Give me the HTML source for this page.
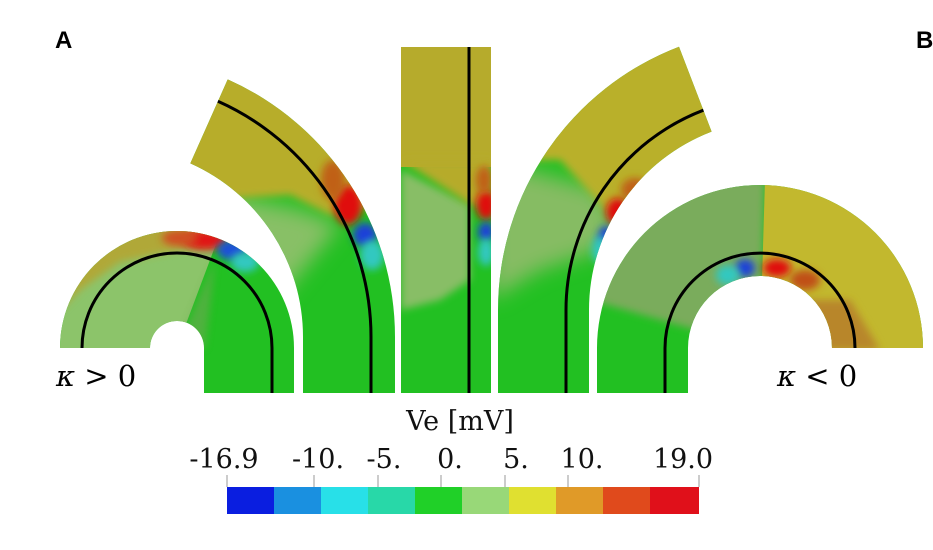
<!DOCTYPE html>
<html><head><meta charset="utf-8"><style>
html,body{margin:0;padding:0;background:#fff;}
svg{display:block;}
</style></head><body>
<svg width="933" height="550" viewBox="0 0 933 550" xmlns="http://www.w3.org/2000/svg">
<defs>
<filter id="bl" x="-50%" y="-50%" width="200%" height="200%"><feGaussianBlur stdDeviation="4"/></filter>
<filter id="bl2" x="-50%" y="-50%" width="200%" height="200%"><feGaussianBlur stdDeviation="10"/></filter>
<clipPath id="c1"><path d="M60,348 A117 117 0 0 1 294,348 L294,393 L204,393 L204,348 A27 27 0 0 0 150,348 Z"/></clipPath>
<clipPath id="c2"><path d="M227.7,79.4 A282 282 0 0 1 395,337 L395,393 L303,393 L303,337 A190 190 0 0 0 190.3,163.4 Z"/></clipPath>
<clipPath id="c3"><rect x="401" y="47" width="90" height="346"/></clipPath>
<clipPath id="c4"><path d="M498,310 A282 282 0 0 1 679,46.7 L711.6,131.6 A191 191 0 0 0 589,310 L589,393 L498,393 Z"/></clipPath>
<clipPath id="c5"><path d="M597,393 L597,348 A163 163 0 0 1 923,348 L832,348 A72 72 0 0 0 688,348 L688,393 Z"/></clipPath>
</defs>

<!-- Shape 1 -->
<g clip-path="url(#c1)">
<rect x="40" y="220" width="270" height="180" fill="#22c022"/>
<path d="M177,348 L40,348 L40,220 L225,220 Z" fill="#8cc46a"/>
<path d="M40,220 L225,220 L215,245 L177,250 L120,262 L80,290 L60,310 L40,320 Z" fill="#b0a838" filter="url(#bl)"/>
<path d="M177,348 L215,260 L205,348 Z" fill="#6fa852" opacity="0.6" filter="url(#bl)"/>
<ellipse cx="205" cy="240" rx="22" ry="10" fill="#e01818" filter="url(#bl)"/>
<ellipse cx="180" cy="238" rx="18" ry="8" fill="#d05020" filter="url(#bl)"/>
<ellipse cx="232" cy="250" rx="15" ry="10" fill="#1a4fd8" filter="url(#bl)"/>
<ellipse cx="245" cy="262" rx="14" ry="10" fill="#30c8c0" filter="url(#bl)"/>
</g>
<path d="M82,348 A95 95 0 0 1 272,348 L272,393" fill="none" stroke="#000" stroke-width="3"/>

<!-- Shape 2 -->
<g clip-path="url(#c2)">
<rect x="180" y="70" width="230" height="330" fill="#22c022"/>
<path d="M113,337 L150,220 L180,195 L230,195 L300,210 L340,225 L113,500 Z" fill="#88c066" filter="url(#bl2)"/>
<path d="M120,60 L400,60 L400,200 L330,215 L290,195 L240,198 L180,215 L120,230 Z" fill="#b7ad2c" filter="url(#bl)"/>
<ellipse cx="348" cy="205" rx="14" ry="20" fill="#e01010" filter="url(#bl)"/>
<ellipse cx="333" cy="180" rx="12" ry="20" fill="#c06018" filter="url(#bl)"/>
<ellipse cx="365" cy="235" rx="12" ry="12" fill="#1a40d8" filter="url(#bl)"/>
<ellipse cx="372" cy="255" rx="12" ry="15" fill="#30c8c0" filter="url(#bl)"/>
</g>
<path d="M217.9,101.3 A258 258 0 0 1 371,337 L371,393" fill="none" stroke="#000" stroke-width="3"/>

<!-- Shape 3 -->
<g clip-path="url(#c3)">
<rect x="401" y="47" width="90" height="346" fill="#22c022"/>
<path d="M401,170 L470,205 L470,280 L440,300 L401,310 Z" fill="#88be66" filter="url(#bl)"/>
<rect x="401" y="47" width="90" height="120" fill="#b6ab2c"/>
<path d="M401,160 L470,205 L491,205 L491,160 Z" fill="#b6ab2c" filter="url(#bl)"/>
<ellipse cx="486" cy="205" rx="10" ry="15" fill="#e01010" filter="url(#bl)"/>
<ellipse cx="484" cy="180" rx="8" ry="14" fill="#c06018" filter="url(#bl)"/>
<ellipse cx="486" cy="232" rx="8" ry="10" fill="#1a40d8" filter="url(#bl)"/>
<ellipse cx="486" cy="252" rx="8" ry="14" fill="#30c8c0" filter="url(#bl)"/>
</g>
<line x1="469" y1="47" x2="469" y2="393" stroke="#000" stroke-width="3"/>

<!-- Shape 4 -->
<g clip-path="url(#c4)">
<rect x="490" y="40" width="240" height="360" fill="#22c022"/>
<path d="M490,160 L600,190 L620,230 L600,250 L540,270 L490,300 Z" fill="#86bc64" filter="url(#bl2)"/>
<path d="M490,40 L730,40 L730,150 L640,190 L610,215 L560,160 L490,160 Z" fill="#b9b02c" filter="url(#bl)"/>
<ellipse cx="618" cy="212" rx="12" ry="14" fill="#e01010" filter="url(#bl)"/>
<ellipse cx="635" cy="190" rx="14" ry="12" fill="#c06018" filter="url(#bl)"/>
<ellipse cx="606" cy="238" rx="8" ry="12" fill="#1a40d8" filter="url(#bl)"/>
<ellipse cx="600" cy="250" rx="8" ry="14" fill="#30c8c0" filter="url(#bl)"/>
</g>
<path d="M566,393 L566,310 A214 214 0 0 1 703.4,110.2" fill="none" stroke="#000" stroke-width="3"/>

<!-- Shape 5 -->
<g clip-path="url(#c5)">
<rect x="590" y="180" width="340" height="220" fill="#22c022"/>
<path d="M760,348 L590,300 L590,180 L765,180 Z" fill="#7aac5c" filter="url(#bl)"/>
<path d="M760,348 L765,180 L930,180 L930,360 Z" fill="#c2b82e"/>
<path d="M780,300 L850,300 L880,350 L820,350 Z" fill="#b8862a" filter="url(#bl)"/>
<ellipse cx="777" cy="268" rx="14" ry="9" fill="#e01010" filter="url(#bl)"/>
<ellipse cx="805" cy="280" rx="15" ry="10" fill="#c05018" filter="url(#bl)"/>
<ellipse cx="745" cy="268" rx="10" ry="9" fill="#1a40d8" filter="url(#bl)"/>
<ellipse cx="728" cy="275" rx="12" ry="10" fill="#30c8c0" filter="url(#bl)"/>
</g>
<path d="M665,393 L665,348 A95 95 0 0 1 855,348" fill="none" stroke="#000" stroke-width="3"/>

<!-- Labels -->
<text x="55" y="48" font-family="Liberation Sans, sans-serif" font-weight="bold" font-size="24">A</text>
<text x="916" y="48" font-family="Liberation Sans, sans-serif" font-weight="bold" font-size="24">B</text>
<text x="56" y="386" font-family="DejaVu Serif, Liberation Serif, serif" font-size="29"><tspan font-style="italic">κ</tspan> &gt; 0</text>
<text x="777" y="386" font-family="DejaVu Serif, Liberation Serif, serif" font-size="29"><tspan font-style="italic">κ</tspan> &lt; 0</text>

<!-- Colorbar -->
<text x="460" y="430" text-anchor="middle" font-family="DejaVu Serif, Liberation Serif, serif" font-size="27" fill="#111">Ve [mV]</text>
<g font-family="DejaVu Serif, Liberation Serif, serif" font-size="27" fill="#111" text-anchor="middle">
<text x="224" y="468">-16.9</text>
<text x="318" y="468">-10.</text>
<text x="384" y="468">-5.</text>
<text x="450" y="468">0.</text>
<text x="516" y="468">5.</text>
<text x="582" y="468">10.</text>
<text x="683" y="468">19.0</text>
</g>
<g stroke="#999" stroke-width="1">
<line x1="227" y1="475" x2="227" y2="487"/><line x1="314" y1="475" x2="314" y2="490"/>
<line x1="378" y1="475" x2="378" y2="490"/><line x1="441" y1="475" x2="441" y2="490"/>
<line x1="505" y1="475" x2="505" y2="490"/><line x1="568" y1="475" x2="568" y2="490"/>
<line x1="699" y1="475" x2="699" y2="487"/>
</g>
<rect x="227" y="487" width="48" height="27" fill="#0a1ee0"/>
<rect x="274" y="487" width="48" height="27" fill="#1a90e0"/>
<rect x="321" y="487" width="48" height="27" fill="#28e0e8"/>
<rect x="368" y="487" width="48" height="27" fill="#28d8a8"/>
<rect x="415" y="487" width="48" height="27" fill="#20d028"/>
<rect x="462" y="487" width="48" height="27" fill="#98d878"/>
<rect x="509" y="487" width="48" height="27" fill="#e0e030"/>
<rect x="556" y="487" width="48" height="27" fill="#e09a28"/>
<rect x="603" y="487" width="48" height="27" fill="#e04a1c"/>
<rect x="650" y="487" width="49" height="27" fill="#e0101a"/>
</svg>
</body></html>
